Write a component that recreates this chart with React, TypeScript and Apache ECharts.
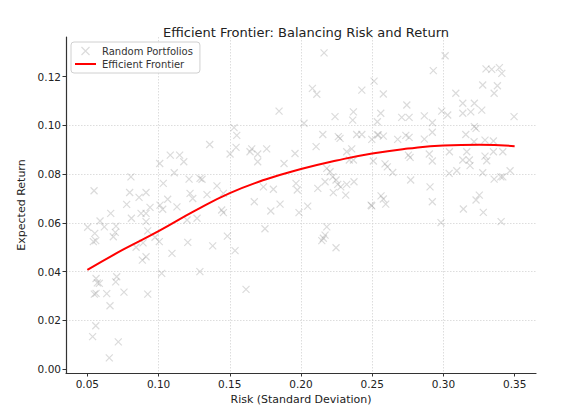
import React, { useEffect, useRef } from "react";
import * as echarts from "echarts";

// Random portfolios: risk (std dev) and expected return
const portfolioRisk: number[] = [
  0.0561, 0.0570, 0.0584, 0.0549, 0.0561, 0.0636, 0.0706, 0.0699, 0.0757, 0.0659,
  0.0924, 0.0559, 0.0537, 0.0717, 0.0654, 0.1022, 0.1290,
  0.0502, 0.0547, 0.0589, 0.0552, 0.0542, 0.0559, 0.0619, 0.0664, 0.0682, 0.0701,
  0.0696, 0.0776, 0.0797, 0.0806, 0.0809, 0.0842, 0.0863, 0.0877, 0.0891, 0.0912,
  0.0912, 0.0912, 0.0940, 0.0924, 0.0886, 0.0912, 0.0975, 0.1005, 0.1010, 0.1029,
  0.1033, 0.1064, 0.1094, 0.1110, 0.1129, 0.1148, 0.1177, 0.1214, 0.1221, 0.1240,
  0.1291, 0.1305, 0.1340, 0.1410, 0.1008, 0.1082, 0.1200, 0.1270, 0.1205, 0.1380,
  0.1359,
  0.2162, 0.2080, 0.2111, 0.2427, 0.2513, 0.1846, 0.2368, 0.2239, 0.2363, 0.2021,
  0.1530, 0.1549, 0.2153, 0.2262, 0.2274, 0.2391, 0.2427, 0.2497, 0.2543, 0.2106,
  0.1544, 0.1654, 0.1759, 0.2356,
  0.1502, 0.1642, 0.1696, 0.1696, 0.1881, 0.1958, 0.1455, 0.1443, 0.1455, 0.1483,
  0.1537, 0.1672, 0.1747, 0.1736, 0.1806, 0.1788, 0.1853, 0.1965, 0.1974, 0.1986,
  0.2047, 0.2118, 0.2169, 0.2181, 0.2204, 0.2223, 0.2246, 0.2258, 0.2227, 0.2279,
  0.2314, 0.2321, 0.2372, 0.2181, 0.2169, 0.2157, 0.2146, 0.2246, 0.2492, 0.2321,
  0.2339, 0.2368,
  0.1614,
  0.3012, 0.2929, 0.3299, 0.3339, 0.3393, 0.3410, 0.3276, 0.3379, 0.3356, 0.2578,
  0.3087, 0.2743, 0.3136, 0.3217, 0.3269, 0.3192, 0.3136, 0.2560, 0.2988, 0.3030,
  0.2866, 0.2707, 0.2759, 0.2922, 0.2536, 0.3496, 0.2536, 0.2578, 0.2679, 0.2736,
  0.2759, 0.2866, 0.2922, 0.3157, 0.3217, 0.3229, 0.3215, 0.3292, 0.3351,
  0.2754, 0.2766, 0.2901, 0.2922, 0.2508, 0.2590, 0.2606, 0.2644, 0.2770, 0.2906,
  0.2922, 0.2562, 0.2578, 0.2595, 0.2497, 0.2983, 0.3040, 0.3094, 0.3136, 0.3182,
  0.3187, 0.3276, 0.3292, 0.3304, 0.3356, 0.3403, 0.3417, 0.3468, 0.3252, 0.3229,
  0.3140, 0.3280, 0.3405, 0.3042, 0.3164, 0.3351, 0.3417,
];

const portfolioReturn: number[] = [
  0.0372, 0.0354, 0.0352, 0.0308, 0.0311, 0.0310, 0.0379, 0.0358, 0.0316, 0.0260,
  0.0308, 0.0178, 0.0133, 0.0112, 0.0046, 0.0393, 0.0400,
  0.0582, 0.0732, 0.0608, 0.0557, 0.0523, 0.0527, 0.0584, 0.0639, 0.0543, 0.0587,
  0.0561, 0.0676, 0.0725, 0.0789, 0.0619, 0.0500, 0.0705, 0.0639, 0.0518, 0.0725,
  0.0639, 0.0605, 0.0664, 0.0567, 0.0447, 0.0461, 0.0541, 0.0523, 0.0673, 0.0656,
  0.0762, 0.0697, 0.0475, 0.0806, 0.0666, 0.0878, 0.0851, 0.0780, 0.0721, 0.0700,
  0.0783, 0.0779, 0.0716, 0.0752, 0.0844, 0.0878, 0.0612, 0.0619, 0.0520, 0.0506,
  0.0922,
  0.1298, 0.1152, 0.1128, 0.1145, 0.1182, 0.1059, 0.1056, 0.1036, 0.1022, 0.1009,
  0.0991, 0.0959, 0.0963, 0.0954, 0.0947, 0.0963, 0.0963, 0.0943, 0.0961, 0.0913,
  0.0910, 0.0904, 0.0904, 0.0904,
  0.0883, 0.0892, 0.0883, 0.0851, 0.0844, 0.0885, 0.0721, 0.0653, 0.0642, 0.0546,
  0.0486, 0.0687, 0.0576, 0.0748, 0.0738, 0.0649, 0.0677, 0.0762, 0.0735, 0.0642,
  0.0669, 0.0742, 0.0769, 0.0824, 0.0810, 0.0789, 0.0776, 0.0758, 0.0724, 0.0748,
  0.0714, 0.0758, 0.0769, 0.0584, 0.0550, 0.0537, 0.0527, 0.0498, 0.0673, 0.0892,
  0.0858, 0.0858,
  0.0327,
  0.1286, 0.1225, 0.1232, 0.1230, 0.1237, 0.1214, 0.1166, 0.1163, 0.1132, 0.1129,
  0.1132, 0.1084, 0.1091, 0.1091, 0.1063, 0.1056, 0.1050, 0.1050, 0.1059, 0.1043,
  0.1039, 0.1033, 0.1033, 0.1011, 0.1015, 0.1036, 0.0961, 0.0956, 0.0943, 0.0959,
  0.0951, 0.0944, 0.0972, 0.0963, 0.0995, 0.0988, 0.0933, 0.0940, 0.0936,
  0.0878, 0.0869, 0.0883, 0.0854, 0.0854, 0.0842, 0.0830, 0.0807, 0.0776, 0.0748,
  0.0687, 0.0711, 0.0698, 0.0677, 0.0670, 0.0601, 0.0803, 0.0814, 0.0858, 0.0858,
  0.0835, 0.0806, 0.0874, 0.0855, 0.0780, 0.0789, 0.0789, 0.0814, 0.0714, 0.0694,
  0.0657, 0.0643, 0.0605, 0.0892, 0.0892, 0.0892, 0.0892,
];

// Efficient frontier curve
const frontierRisk: number[] = [
  0.05, 0.075, 0.1, 0.125, 0.15, 0.175, 0.2, 0.225, 0.25, 0.275, 0.3, 0.325, 0.35,
];
const frontierReturn: number[] = [
  0.0407, 0.0490, 0.0566, 0.0648, 0.0722, 0.0778, 0.0821, 0.0856, 0.0885, 0.0905,
  0.0918, 0.0921, 0.0915,
];

const xTicks: number[] = [0.05, 0.1, 0.15, 0.2, 0.25, 0.3, 0.35];
const yTicks: number[] = [0, 0.02, 0.04, 0.06, 0.08, 0.1, 0.12];

const FONT = "DejaVu Sans";
const CROSS = "path://M0,0L10,10M10,0L0,10";
const MARKER_COLOR = "rgba(128,128,128,0.36)";

export default function App() {
  const ref = useRef<HTMLDivElement>(null);

  useEffect(() => {
    if (!ref.current) return;
    const chart = echarts.init(ref.current, null, { renderer: "svg" });

    const scatterData = portfolioRisk.map((r, i) => [r, portfolioReturn[i]]);
    const lineData = frontierRisk.map((r, i) => [r, frontierReturn[i]]);

    const axisCommon = {
      type: "value" as const,
      axisLine: { show: true, onZero: false, lineStyle: { color: "#333", width: 1.2 } },
      splitLine: {
        show: true,
        showMinLine: false,
        showMaxLine: false,
        lineStyle: { color: "#d4d4d4", width: 0.8, type: [1.5, 1.5] },
      },
      nameLocation: "middle" as const,
      nameTextStyle: { fontSize: 11, color: "#222", fontFamily: FONT },
    };

    const labelCommon = {
      formatter: (v: number) => v.toFixed(2),
      fontSize: 10.5,
      color: "#222",
      fontFamily: FONT,
      margin: 5,
    };

    chart.setOption({
      animation: false,
      backgroundColor: "#ffffff",
      title: {
        text: "Efficient Frontier: Balancing Risk and Return",
        left: 301,
        top: 21,
        textAlign: "center",
        textStyle: { fontSize: 13, fontWeight: "normal", color: "#222", fontFamily: FONT },
      },
      legend: {
        orient: "vertical",
        left: 71,
        top: 42,
        padding: [4, 7, 4, 3],
        itemGap: 3,
        itemWidth: 21,
        itemHeight: 8,
        backgroundColor: "rgba(255,255,255,0.85)",
        borderColor: "#d0d0d0",
        borderWidth: 1,
        borderRadius: 3,
        textStyle: { fontSize: 10, color: "#333", fontFamily: FONT, padding: [0, 0, 0, 1] },
        data: [
          {
            name: "Random Portfolios",
            icon: CROSS,
            itemStyle: { color: "rgba(0,0,0,0)", borderColor: MARKER_COLOR, borderWidth: 1.2 },
          },
          {
            name: "Efficient Frontier",
            itemStyle: { color: "rgba(0,0,0,0)", borderColor: "rgba(0,0,0,0)", borderWidth: 0, opacity: 0 },
            lineStyle: { color: "#ff0000", width: 2 },
          },
        ],
      },
      grid: { left: 66, right: 52, top: 37, bottom: 43, containLabel: false },
      xAxis: {
        ...axisCommon,
        min: 0.035,
        max: 0.365,
        splitNumber: 7,
        name: "Risk (Standard Deviation)",
        nameGap: 20,
        axisTick: { show: true, length: 3.5, lineStyle: { color: "#333" }, customValues: xTicks },
        axisLabel: { ...labelCommon, customValues: xTicks },
      },
      yAxis: {
        ...axisCommon,
        min: -0.0016,
        max: 0.1363,
        splitNumber: 7,
        name: "Expected Return",
        nameGap: 37,
        axisTick: { show: true, length: 3.5, lineStyle: { color: "#333" }, customValues: yTicks },
        axisLabel: { ...labelCommon, customValues: yTicks },
      },
      series: [
        {
          name: "Random Portfolios",
          type: "scatter",
          data: scatterData,
          symbol: CROSS,
          symbolSize: 7,
          symbolKeepAspect: true,
          itemStyle: { color: "rgba(0,0,0,0)", borderColor: MARKER_COLOR, borderWidth: 1.2 },
          z: 2,
        },
        {
          name: "Efficient Frontier",
          type: "line",
          data: lineData,
          smooth: true,
          symbol: "none",
          showSymbol: false,
          lineStyle: { color: "#ff0000", width: 2 },
          itemStyle: { color: "#ff0000" },
          z: 3,
        },
      ],
    });

    return () => chart.dispose();
  }, []);

  return (
    <div
      ref={ref}
      style={{ position: "fixed", left: 0, top: 0, width: 588, height: 416, background: "#fff" }}
    />
  );
}
